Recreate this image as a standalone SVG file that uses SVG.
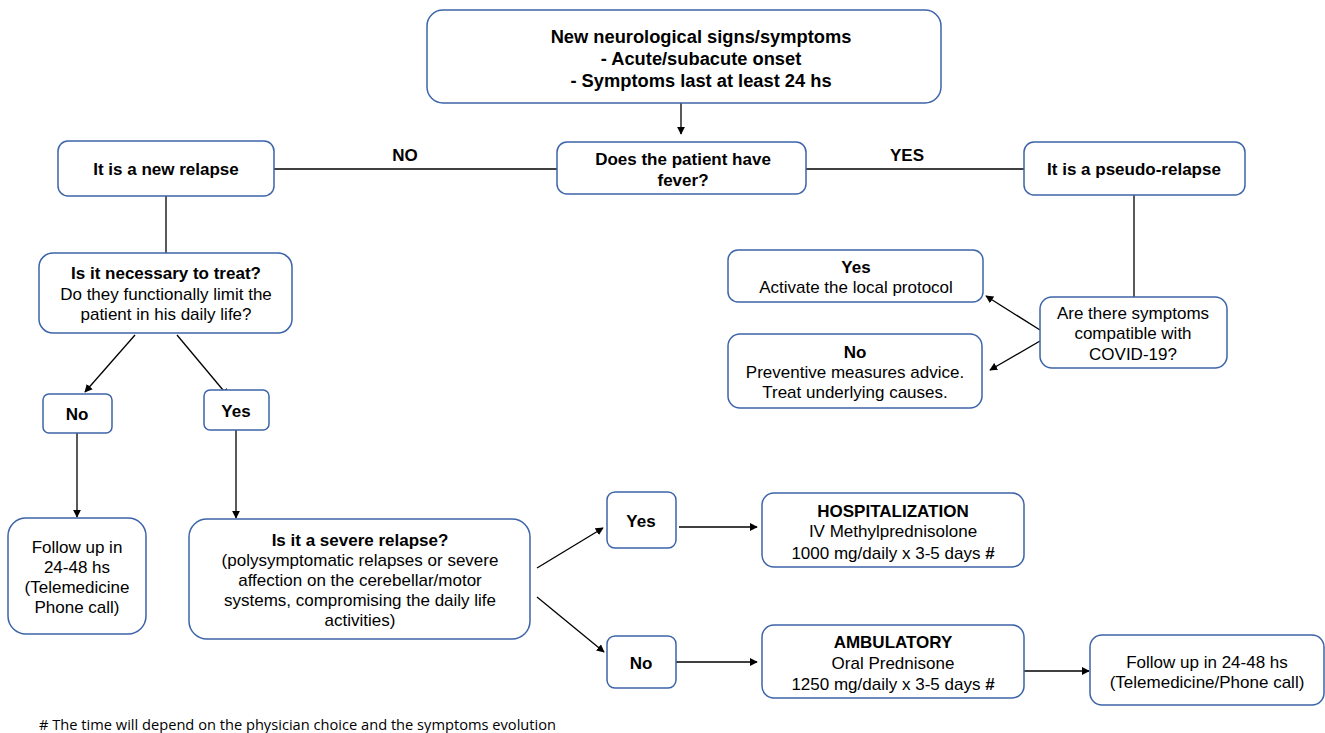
<svg xmlns="http://www.w3.org/2000/svg" width="1325" height="733" viewBox="0 0 1325 733">
<style>
.box{fill:#fff;stroke:#3c64a8;stroke-width:1.5}
text{font-family:"Liberation Sans",Arial,sans-serif;font-size:17px;fill:#000;text-anchor:middle;dominant-baseline:central}
.b{font-weight:bold}
.t{font-size:18.3px}
.ln{stroke:#000;stroke-width:1.3;fill:none}
.ar{stroke:#000;stroke-width:1.3;fill:none;marker-end:url(#ah)}
.foot{font-family:"Open Sans","Liberation Sans",sans-serif;font-size:14px;text-anchor:start}
</style>
<defs>
<marker id="ah" viewBox="0 0 10 10" refX="9" refY="5" markerWidth="8" markerHeight="8" markerUnits="userSpaceOnUse" orient="auto">
<path d="M0,0 L10,5 L0,10 z" fill="#000"/>
</marker>
</defs>
<rect width="1325" height="733" fill="#fff"/>
<g id="connectors">
<line class="ar" x1="681" y1="103" x2="681" y2="134"/>
<line class="ln" x1="274" y1="169" x2="557" y2="169"/>
<line class="ln" x1="806" y1="169" x2="1024" y2="169"/>
<line class="ln" x1="166" y1="196" x2="166" y2="253"/>
<line class="ar" x1="135" y1="335" x2="85" y2="392"/>
<line class="ar" x1="177" y1="335" x2="228" y2="396"/>
<line class="ar" x1="77" y1="433" x2="77" y2="517"/>
<line class="ar" x1="236" y1="430" x2="236" y2="518"/>
<line class="ar" x1="537" y1="568" x2="603" y2="528"/>
<line class="ar" x1="537" y1="597" x2="604" y2="652"/>
<line class="ar" x1="679" y1="527" x2="757" y2="527"/>
<line class="ar" x1="676" y1="662" x2="757" y2="662"/>
<line class="ar" x1="1024" y1="671" x2="1089" y2="671"/>
<line class="ln" x1="1134" y1="195" x2="1134" y2="297"/>
<line class="ar" x1="1040" y1="330" x2="986" y2="296"/>
<line class="ar" x1="1040" y1="341" x2="990" y2="370"/>
<text class="b" x="405" y="155">NO</text>
<text class="b" x="907" y="155">YES</text>
</g>
<g id="start">
<rect class="box" x="427" y="10" width="514" height="93" rx="16"/>
<text class="b t" x="701" y="36">New neurological signs/symptoms</text>
<text class="b t" x="701" y="58">- Acute/subacute onset</text>
<text class="b t" x="701" y="80">- Symptoms last at least 24 hs</text>
</g>
<g id="fever">
<rect class="box" x="557" y="142" width="249" height="52" rx="10"/>
<text class="b" x="683" y="159">Does the patient have</text>
<text class="b" x="683" y="180">fever?</text>
</g>
<g id="new-relapse">
<rect class="box" x="58" y="141" width="216" height="55" rx="10"/>
<text class="b" x="166" y="169">It is a new relapse</text>
</g>
<g id="pseudo-relapse">
<rect class="box" x="1024" y="142" width="221" height="53" rx="10"/>
<text class="b" x="1134" y="169">It is a pseudo-relapse</text>
</g>
<g id="treat">
<rect class="box" x="39" y="253" width="253" height="80" rx="14"/>
<text class="b" x="166" y="273">Is it necessary to treat?</text>
<text x="166" y="294">Do they functionally limit the</text>
<text x="166" y="314">patient in his daily life?</text>
</g>
<g id="no-treat">
<rect class="box" x="43" y="394" width="69" height="39" rx="6"/>
<text class="b" x="77" y="414">No</text>
</g>
<g id="yes-treat">
<rect class="box" x="204" y="390" width="65" height="40" rx="6"/>
<text class="b" x="236" y="411">Yes</text>
</g>
<g id="follow-up-left">
<rect class="box" x="8" y="518" width="138" height="116" rx="18"/>
<text x="77" y="547">Follow up in</text>
<text x="77" y="567">24-48 hs</text>
<text x="77" y="587">(Telemedicine</text>
<text x="77" y="607">Phone call)</text>
</g>
<g id="severe">
<rect class="box" x="189" y="519" width="341" height="120" rx="18"/>
<text class="b" x="360" y="540">Is it a severe relapse?</text>
<text x="360" y="560">(polysymptomatic relapses or severe</text>
<text x="360" y="580">affection on the cerebellar/motor</text>
<text x="360" y="600">systems, compromising the daily life</text>
<text x="360" y="620">activities)</text>
</g>
<g id="yes-severe">
<rect class="box" x="607" y="492" width="69" height="56" rx="8"/>
<text class="b" x="641" y="521">Yes</text>
</g>
<g id="no-severe">
<rect class="box" x="607" y="636" width="69" height="52" rx="8"/>
<text class="b" x="641" y="663">No</text>
</g>
<g id="hospitalization">
<rect class="box" x="762" y="493" width="262" height="74" rx="12"/>
<text class="b" x="893" y="511">HOSPITALIZATION</text>
<text x="893" y="531">IV Methylprednisolone</text>
<text x="893" y="553">1000 mg/daily x 3-5 days <tspan class="b">#</tspan></text>
</g>
<g id="ambulatory">
<rect class="box" x="762" y="625" width="262" height="73" rx="12"/>
<text class="b" x="893" y="642">AMBULATORY</text>
<text x="893" y="663">Oral Prednisone</text>
<text x="893" y="684">1250 mg/daily x 3-5 days <tspan class="b">#</tspan></text>
</g>
<g id="follow-up-right">
<rect class="box" x="1090" y="635" width="234" height="70" rx="12"/>
<text x="1207" y="662">Follow up in 24-48 hs</text>
<text x="1207" y="682">(Telemedicine/Phone call)</text>
</g>
<g id="covid">
<rect class="box" x="1040" y="297" width="187" height="71" rx="12"/>
<text x="1133" y="313">Are there symptoms</text>
<text x="1133" y="333">compatible with</text>
<text x="1133" y="354">COVID-19?</text>
</g>
<g id="covid-yes">
<rect class="box" x="728" y="250" width="255" height="52" rx="10"/>
<text class="b" x="856" y="267">Yes</text>
<text x="856" y="287">Activate the local protocol</text>
</g>
<g id="covid-no">
<rect class="box" x="728" y="334" width="254" height="74" rx="12"/>
<text class="b" x="855" y="352">No</text>
<text x="855" y="372">Preventive measures advice.</text>
<text x="855" y="392">Treat underlying causes.</text>
</g>
<text class="foot" x="39" y="724" textLength="517" lengthAdjust="spacingAndGlyphs"># The time will depend on the physician choice and the symptoms evolution</text>
</svg>
